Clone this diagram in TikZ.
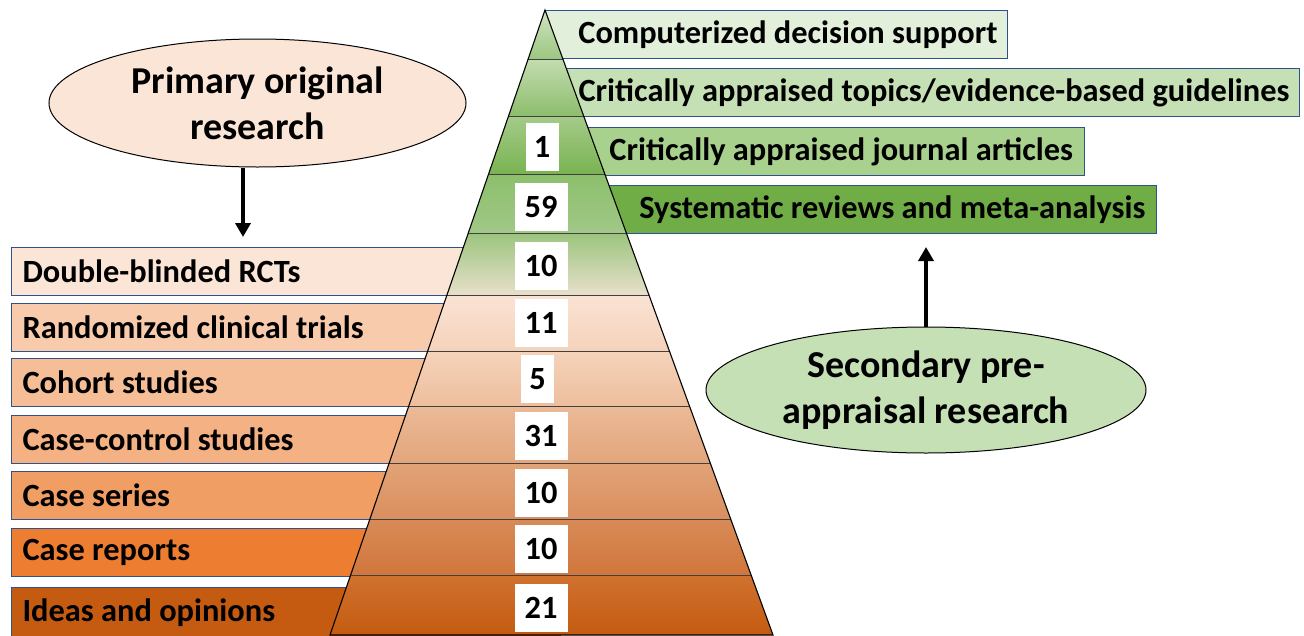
\documentclass[tikz,border=0pt]{standalone}
\usepackage{fontspec}
\setmainfont{Carlito}
\usetikzlibrary{shapes.geometric,arrows.meta}

% box fills
\definecolor{gA}{HTML}{E2EFDA}
\definecolor{gB}{HTML}{C5E0B4}
\definecolor{gC}{HTML}{A9D18E}
\definecolor{gD}{HTML}{70AD47}
\definecolor{oA}{HTML}{FBE5D6}
\definecolor{oB}{HTML}{F8CBAD}
\definecolor{oC}{HTML}{F5BE97}
\definecolor{oD}{HTML}{F4B183}
\definecolor{oE}{HTML}{F09E63}
\definecolor{oF}{HTML}{ED7D31}
\definecolor{oG}{HTML}{C55A11}
\definecolor{boxedge}{HTML}{2F528F}
% pyramid band shades (top/bottom of each band)
\definecolor{p1t}{HTML}{CFE4C0}\definecolor{p1b}{HTML}{9DC681}
\definecolor{p2t}{HTML}{C3DDB0}\definecolor{p2b}{HTML}{8DBD6C}
\definecolor{p3t}{HTML}{A4CB89}\definecolor{p3b}{HTML}{7AB352}
\definecolor{p4t}{HTML}{8CBF6B}\definecolor{p4m}{HTML}{6EAC45}\definecolor{p4b}{HTML}{A1C887}
\definecolor{p5t}{HTML}{9CC47E}\definecolor{p5b}{HTML}{E8E0CA}
\definecolor{p6t}{HTML}{FAE3D4}\definecolor{p6b}{HTML}{F5D2BA}
\definecolor{p7t}{HTML}{F5D3BB}\definecolor{p7b}{HTML}{EDBE9D}
\definecolor{p8t}{HTML}{EBBA97}\definecolor{p8b}{HTML}{E3A67C}
\definecolor{p9t}{HTML}{E1A377}\definecolor{p9b}{HTML}{DA8F5F}
\definecolor{pAt}{HTML}{D88B57}\definecolor{pAb}{HTML}{D1763C}
\definecolor{pBt}{HTML}{D0722F}\definecolor{pBb}{HTML}{C55A11}

\begin{document}
\begin{tikzpicture}[x=1pt,y=-1pt,
  lbl/.style={font=\fontsize{32.4}{36}\selectfont\bfseries},
  rbox/.style={lbl,draw=boxedge,line width=1.1pt,anchor=north east,
    minimum height=48pt,inner xsep=10pt,inner ysep=0pt,align=flush right},
  lbox/.style={lbl,draw=boxedge,line width=1.1pt,anchor=north west,
    minimum height=48pt,minimum width=549pt,text width=527pt,
    inner xsep=11pt,inner ysep=0pt,align=flush left},
  numbox/.style={lbl,fill=white,minimum height=48pt,inner sep=0pt},
  oval/.style={ellipse,draw=black,line width=1pt,inner sep=0pt,
    font=\fontsize{38}{46}\selectfont\bfseries,align=center},
  bandline/.style={draw=black!75,line width=1pt},
  bigarrow/.style={line width=3.5pt,-{Triangle[width=15pt,length=14pt]}}
]
\useasboundingbox (0,0) rectangle (1304,635);

% ---- upper (appraised) categories, right side ----
\node[rbox,fill=gA,minimum width=463pt,text width=443pt] (r1) at (1008,10)
  {Computerized decision support};
\node[rbox,fill=gB,minimum width=755pt,text width=735pt] (r2) at (1300,68)
  {Critically appraised topics/evidence-based guidelines};
\node[rbox,fill=gC,minimum width=540pt,text width=517pt,inner xsep=11.5pt] (r3) at (1085,127)
  {Critically appraised journal articles};
\node[rbox,fill=gD,minimum width=612pt,text width=590pt,inner xsep=11pt] (r4) at (1157,185)
  {Systematic reviews and meta-analysis};

% ---- primary study designs, left side ----
\node[lbox,fill=oA] (l1) at (11,247) {Double-blinded RCTs};
\node[lbox,fill=oB] (l2) at (11,303) {Randomized clinical trials};
\node[lbox,fill=oC] (l3) at (11,358) {Cohort studies};
\node[lbox,fill=oD] (l4) at (11,415) {Case-control studies};
\node[lbox,fill=oE] (l5) at (11,471) {Case series};
\node[lbox,fill=oF] (l6) at (11,528) {Case reports};
\node[lbox,fill=oG,minimum height=50pt] (l7) at (11,587) {Ideas and opinions};

% ---- pyramid ----
\coordinate (apex) at (545,10);
\coordinate (bl) at (330,635);
\coordinate (br) at (773,635);
\begin{scope}
  \clip (apex) -- (br) -- (bl) -- cycle;
  \shade[top color=p1t, bottom color=p1b] (320,10) rectangle (790,59);
  \shade[top color=p2t, bottom color=p2b] (320,59) rectangle (790,116);
  \shade[top color=p3t, bottom color=p3b] (320,116) rectangle (790,174);
  \shade[top color=p4t, middle color=p4m, bottom color=p4b] (320,174) rectangle (790,233);
  \shade[top color=p5t, bottom color=p5b] (320,233) rectangle (790,295);
  \shade[top color=p6t, bottom color=p6b] (320,295) rectangle (790,351);
  \shade[top color=p7t, bottom color=p7b] (320,351) rectangle (790,406);
  \shade[top color=p8t, bottom color=p8b] (320,406) rectangle (790,463);
  \shade[top color=p9t, bottom color=p9b] (320,463) rectangle (790,519);
  \shade[top color=pAt, bottom color=pAb] (320,519) rectangle (790,575);
  \shade[top color=pBt, bottom color=pBb] (320,575) rectangle (790,636);
  \foreach \yy in {59,116,174,233,295,351,406,463,519,575}
    \draw[bandline] (320,\yy) -- (790,\yy);
\end{scope}
\draw[line width=1.1pt,black] (apex) -- (br) -- (bl) -- cycle;

% ---- study counts ----
\node[numbox,minimum width=33pt] (n1)  at (542,146.5) {1};
\node[numbox,minimum width=53pt] (n2)  at (541,206.5) {59};
\node[numbox,minimum width=53pt] (n3)  at (541,266)   {10};
\node[numbox,minimum width=53pt] (n4)  at (541,322.5) {11};
\node[numbox,minimum width=33pt] (n5)  at (537.5,379) {5};
\node[numbox,minimum width=53pt] (n6)  at (541,436)   {31};
\node[numbox,minimum width=53pt] (n7)  at (541,492.5) {10};
\node[numbox,minimum width=53pt] (n8)  at (541,549)   {10};
\node[numbox,minimum width=53pt] (n9)  at (541,607.5) {21};

% ---- research type ovals and arrows ----
\node[oval,fill=oA,minimum width=417pt,minimum height=128pt] (prim) at (257.5,103)
  {Primary original\\research};
\node[oval,fill=gB,minimum width=440pt,minimum height=126pt] (sec) at (926,390)
  {Secondary pre-\\appraisal research};
\coordinate (pa) at (243,237);
\coordinate (sa) at (926,247);
\draw[bigarrow] (pa |- prim.south) -- (pa);
\draw[bigarrow] (sec.north) -- (sa);
\end{tikzpicture}
\end{document}
